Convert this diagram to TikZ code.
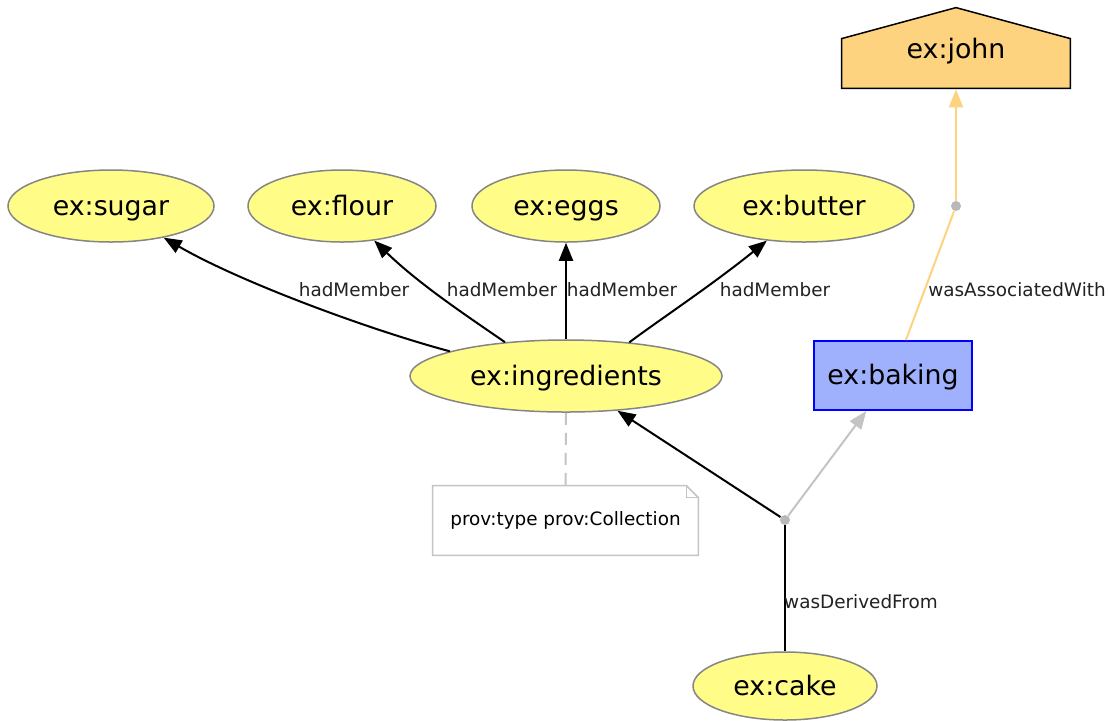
\documentclass[tikz,border=0pt]{standalone}
\usepackage{fontspec}
\setmainfont{DejaVu Sans}
\usetikzlibrary{shapes.geometric,arrows.meta,calc,backgrounds}
\definecolor{entityfill}{HTML}{FFFC87}
\definecolor{entityline}{HTML}{858585}
\definecolor{activityfill}{HTML}{9FB1FC}
\definecolor{activityline}{HTML}{0000FF}
\definecolor{agentfill}{HTML}{FED37F}
\definecolor{softgrey}{HTML}{C4C4C4}
\definecolor{dotgrey}{HTML}{B8B8B8}
\definecolor{labelgrey}{HTML}{222222}

\begin{document}
\begin{tikzpicture}[x=0.5pt,y=-0.5pt,
  bigtext/.style={font=\fontsize{13.4}{15}\selectfont, text height=11.4pt, text depth=2.4pt},
  entity/.style={ellipse, draw=entityline, fill=entityfill, line width=0.75pt,
    minimum height=36pt, inner sep=0pt, bigtext},
  activity/.style={rectangle, draw=activityline, fill=activityfill, line width=1pt,
    minimum width=79pt, minimum height=34.5pt, inner sep=0pt, bigtext},
  agentbox/.style={rectangle, draw=none, minimum width=114pt, minimum height=40pt,
    inner sep=0pt, bigtext},
  notebox/.style={rectangle, draw=none, minimum width=132.5pt, minimum height=34.5pt,
    inner sep=0pt, font=\fontsize{9.2}{11}\selectfont},
  joint/.style={circle, fill=dotgrey, minimum size=5pt, inner sep=0pt},
  lbl/.style={font=\fontsize{9.2}{11}\selectfont, text=labelgrey, inner sep=0pt},
  tip/.style={-{Triangle[length=9pt,width=7pt]}},
  member/.style={black, line width=1pt, tip},
  derive/.style={black, line width=1pt},
  assoc/.style={agentfill, line width=1pt},
  usage/.style={softgrey, line width=1pt},
]
\useasboundingbox (0,0) rectangle (1108,720);

% entities
\node[entity, minimum width=103pt] (sugar)  at (111,206) {ex:sugar};
\node[entity, minimum width=94pt]  (flour)  at (342,206) {ex:flour};
\node[entity, minimum width=94pt]  (eggs)   at (566,206) {ex:eggs};
\node[entity, minimum width=110pt] (butter) at (804,206) {ex:butter};
\node[entity, minimum width=156pt] (ingr)   at (566,376) {ex:ingredients};
\node[entity, minimum width=92pt, minimum height=34pt] (cake) at (785,686) {ex:cake};

% activity and agent
\node[activity] (baking) at (893,375.5) {ex:baking};
\node[agentbox] (john) at (956,49) {ex:john};
\begin{pgfonlayer}{background}
  \fill[white] (0,0) rectangle (1108,720);
  \draw[fill=agentfill, line width=0.75pt, line join=miter]
    ($(john.south west)+(0,-1)$) -- ($(john.south east)+(0,-1)$) -- ($(john.north east)+(0,30)$)
    -- ($(john.north)+(0,-1)$) -- ($(john.north west)+(0,30)$) -- cycle;
\end{pgfonlayer}

% annotation note
\node[notebox] (note) at (565.5,520.5) {prov:type prov:Collection};
\draw[softgrey, line width=0.75pt]
  (note.south west) -- (note.south east) -- ($(note.north east)+(0,12)$)
  -- ($(note.north east)+(-12,0)$) -- (note.north west) -- cycle;
\draw[softgrey, line width=0.75pt]
  ($(note.north east)+(-12,0)$) |- ($(note.north east)+(0,12)$);
\draw[softgrey, line width=1pt, dash pattern=on 6pt off 4pt] (ingr.south) -- (note.north);

% junction points
\node[joint] (p1) at (956,206) {};
\node[joint] (p2) at (785,520) {};

% hadMember edges
\draw[member] (ingr.168) .. controls (370,330) and (240,282) .. (sugar.-31)
  node[lbl] at (354,290) {hadMember};
\draw[member] (ingr.151.6) .. controls (470,318) and (420,285) .. (flour.-47)
  node[lbl] at (502,290) {hadMember};
\draw[member] (ingr.north) -- (eggs.south)
  node[lbl] at (622,290) {hadMember};
\draw[member] (ingr.28.4) .. controls (662,318) and (712,285) .. (butter.-137)
  node[lbl] at (775,290) {hadMember};

% wasAssociatedWith
\draw[assoc] (baking.70) -- (p1)
  node[lbl] at (1017,290) {wasAssociatedWith};
\draw[assoc, tip] (p1) -- (john.south);

% wasDerivedFrom
\draw[derive] (cake.north) -- (p2)
  node[lbl] at (861,602) {wasDerivedFrom};
\draw[derive, tip] (p2) -- (ingr.-34.3);
\draw[usage, tip] (p2) -- (baking.-127);
\end{tikzpicture}
\end{document}
